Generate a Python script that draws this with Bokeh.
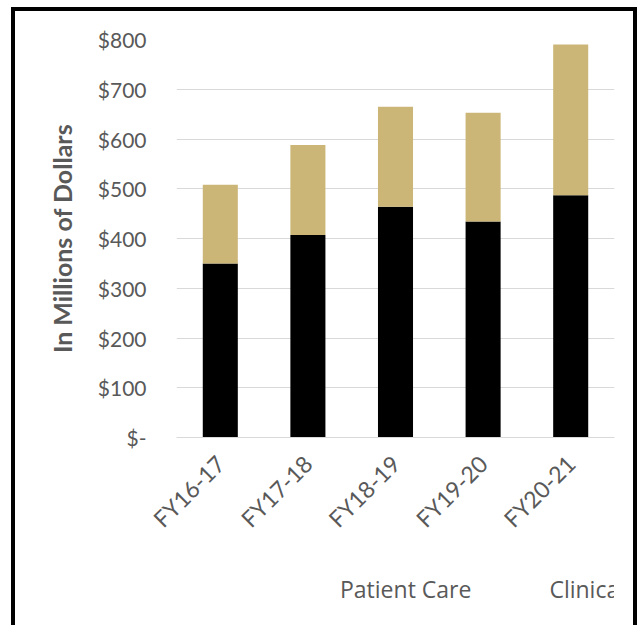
import math
from bokeh.plotting import figure
from bokeh.layouts import column
from bokeh.models import Range1d, FactorRange, FixedTicker, Legend, LegendItem, ColumnDataSource
from bokeh.embed import file_html
from bokeh.resources import INLINE

# ---- data ----
years = ["FY16-17", "FY17-18", "FY18-19", "FY19-20", "FY20-21"]
patient_care = [350, 407, 464, 434, 487]
clinical_contract = [158, 181, 201, 219, 303]
series_names = ["Patient Care", "Clinical Contract"]
series_colors = ["#000000", "#CBB677"]
y_ticks = [0, 100, 200, 300, 400, 500, 600, 700, 800]
y_tick_labels = ["$-", "$100", "$200", "$300", "$400", "$500", "$600", "$700", "$800"]
y_axis_title = "In Millions of Dollars"

source = ColumnDataSource(dict(year=years, patient=patient_care, clinical=clinical_contract))

# ---- main chart ----
p = figure(
    x_range=FactorRange(factors=years, range_padding=0),
    y_range=Range1d(0, 800),
    width=618, height=549,
    frame_width=430, frame_height=394,
    output_backend="svg", toolbar_location=None,
    min_border_left=161, min_border_right=27,
    min_border_top=28, min_border_bottom=127,
)
p.styles = {
    "box-sizing": "content-box",
    "border-top": "4px solid black",
    "border-left": "4px solid black",
    "border-right": "4px solid black",
    "border-bottom": "none",
    "margin-left": "11px",
    "margin-top": "7px",
}
p.outline_line_color = None
p.background_fill_color = "white"
p.border_fill_color = "white"

rs = p.vbar_stack(["patient", "clinical"], x="year", width=0.4, color=series_colors,
                  source=source, line_color=None)

# y axis
p.yaxis.ticker = FixedTicker(ticks=y_ticks)
p.ygrid.ticker = p.yaxis[0].ticker
p.yaxis.major_label_overrides = {t: l for t, l in zip(y_ticks, y_tick_labels)}
p.yaxis.axis_line_color = None
p.yaxis.major_tick_line_color = None
p.yaxis.minor_tick_line_color = None
p.yaxis.major_tick_out = 0
p.yaxis.major_label_standoff = 30
p.yaxis.major_label_text_font = "Lato"
p.yaxis.major_label_text_font_size = "21px"
p.yaxis.major_label_text_color = "#595959"
p.yaxis.axis_label = y_axis_title
p.yaxis.axis_label_text_font = "Lato"
p.yaxis.axis_label_text_font_style = "bold"
p.yaxis.axis_label_text_font_size = "25px"
p.yaxis.axis_label_text_color = "#595959"
p.yaxis.axis_label_standoff = 18
p.ygrid.grid_line_color = "#d9d9d9"
p.ygrid.grid_line_width = 1

# x axis
p.xgrid.grid_line_color = None
p.xaxis.axis_line_color = "#d9d9d9"
p.xaxis.axis_line_width = 1
p.xaxis.major_tick_line_color = None
p.xaxis.minor_tick_line_color = None
p.xaxis.major_tick_out = 0
p.xaxis.major_label_orientation = math.pi / 4
p.xaxis.major_label_standoff = 22
p.xaxis.major_label_text_font = "Lato"
p.xaxis.major_label_text_font_size = "23px"
p.xaxis.major_label_text_color = "#595959"

# ---- legend strip (a second figure whose frame holds the legend) ----
p2 = figure(
    x_range=Range1d(0, 1), y_range=Range1d(0, 1),
    width=618, height=65,
    output_backend="svg", toolbar_location=None,
    min_border=0, min_border_left=0, min_border_right=0,
    min_border_top=0, min_border_bottom=0,
)
p2.styles = {
    "box-sizing": "content-box",
    "border-left": "4px solid black",
    "border-right": "4px solid black",
    "border-top": "none",
    "border-bottom": "none",
    "margin-left": "11px",
}
p2.axis.visible = False
p2.grid.visible = False
p2.outline_line_color = None
p2.background_fill_color = "white"
p2.border_fill_color = "white"

empty = ColumnDataSource(dict(x=[], top=[]))
legend_rs = [p2.vbar(x="x", top="top", width=0.1, color=c, line_color=None, source=empty)
             for c in series_colors]

legend = Legend(
    items=[LegendItem(label=n, renderers=[r]) for n, r in zip(series_names, legend_rs)],
    location=(138, 20), orientation="horizontal",
    border_line_color=None, background_fill_alpha=0,
    padding=0, margin=0, spacing=52,
    glyph_width=12, glyph_height=18, label_standoff=14,
    label_text_font="Open Sans", label_text_font_size="23px",
    label_text_color="#595959",
)
p2.add_layout(legend)

layout = column(p, p2, spacing=0)

open("out.html", "w").write(file_html(layout, INLINE))
